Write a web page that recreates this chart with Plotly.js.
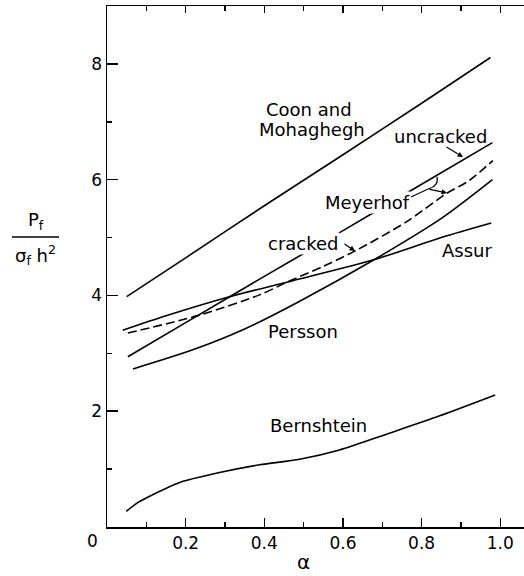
<!DOCTYPE html>
<html>
<head>
<meta charset="utf-8">
<script src="https://cdn.plot.ly/plotly-3.0.1.min.js"></script>
<style>
html,body{margin:0;padding:0;overflow:hidden;background:#fff;}
#chart{width:524px;height:576px;}
</style>
</head>
<body>
<div id="chart"></div>
<script>
// ---- data ----
const alphaCoon = [0.05, 0.2, 0.4, 0.6, 0.8, 0.975];
const pfCoon    = [3.98, 4.65, 5.55, 6.43, 7.32, 8.11];

const alphaUncracked = [0.053, 0.2, 0.4, 0.6, 0.8, 0.98];
const pfUncracked    = [2.94, 3.53, 4.33, 5.12, 5.92, 6.64];

const alphaCracked = [0.053, 0.235, 0.388, 0.464, 0.549, 0.634, 0.761, 0.863, 0.922, 0.981];
const pfCracked    = [3.35, 3.66, 4.01, 4.25, 4.50, 4.78, 5.27, 5.76, 5.99, 6.33];

const alphaAssur = [0.04, 0.15, 0.307, 0.47, 0.68, 0.85, 0.977];
const pfAssur    = [3.40, 3.65, 3.97, 4.25, 4.62, 5.00, 5.25];

const alphaPersson = [0.066, 0.218, 0.35, 0.49, 0.68, 0.85, 0.98];
const pfPersson    = [2.73, 3.06, 3.42, 3.90, 4.62, 5.33, 6.00];

const alphaBern = [0.049, 0.08, 0.117, 0.185, 0.286, 0.388, 0.49, 0.591, 0.718, 0.846, 0.987];
const pfBern    = [0.27, 0.43, 0.56, 0.77, 0.94, 1.075, 1.17, 1.33, 1.62, 1.92, 2.28];

const xTickVals = [0.2, 0.4, 0.6, 0.8, 1.0];
const xTickText = ['0.2', '0.4', '0.6', '0.8', '1.0'];
const xMinorVals = [0.1, 0.3, 0.5, 0.7, 0.9];
const yTickVals = [2, 4, 6, 8];
const yTickText = ['2', '4', '6', '8'];
const yMinorVals = [1, 3, 5, 7];

// ---- layout geometry ----
const FW = 524, FH = 576;
const L = 107, T = 6, W = FW - L, H = 521;
const XMAX = W / 393.3, YMAX = 9;
const dx = px => (px - L) / W * XMAX;
const dy = py => (T + H - py) / H * YMAX;
const paperX = px => (px - L) / W;
const paperY = py => (T + H - py) / H;

const FONT = 'DejaVu Sans, sans-serif';
const lineStyle = {color: '#000', width: 1.6};

function curve(x, y, dash, xa) {
  return {x: x, y: y, type: 'scatter', mode: 'lines', xaxis: xa || 'x', yaxis: 'y',
          line: Object.assign({}, lineStyle, {shape: 'spline', smoothing: 0.8, dash: dash || 'solid'}),
          hoverinfo: 'skip', showlegend: false};
}

const traces = [
  curve(alphaCoon, pfCoon, 'solid', 'x2'),
  curve(alphaUncracked, pfUncracked),
  curve(alphaCracked, pfCracked, '9px,4px'),
  curve(alphaAssur, pfAssur),
  curve(alphaPersson, pfPersson),
  curve(alphaBern, pfBern)
];

function label(text, px, py, bg) {
  return {text: text, x: dx(px), y: dy(py), xref: 'x', yref: 'y', showarrow: false,
          xanchor: 'center', yanchor: 'middle', font: {family: FONT, size: 18, color: '#000'},
          bgcolor: bg ? '#fff' : 'rgba(0,0,0,0)', borderpad: 0};
}
function arrow(tipx, tipy, tailx, taily) {
  return {text: '', x: dx(tipx), y: dy(tipy), xref: 'x', yref: 'y', showarrow: true,
          ax: tailx - tipx, ay: taily - tipy, arrowhead: 2, arrowsize: 0.9, arrowwidth: 1.2,
          arrowcolor: '#000', standoff: 0, startstandoff: 0};
}
function paperText(text, px, py, size) {
  return {text: text, x: paperX(px), y: paperY(py), xref: 'paper', yref: 'paper', showarrow: false,
          xanchor: 'center', yanchor: 'middle', font: {family: FONT, size: size, color: '#000'}};
}

const annotations = [
  label('Coon and', 309, 109),
  label('Mohaghegh', 312, 129),
  label('uncracked', 440, 136),
  label('Meyerhof', 367, 202, true),
  label('cracked', 303, 243, true),
  label('Assur', 467, 250),
  label('Persson', 303, 331),
  label('Bernshtein', 318, 425),
  arrow(463, 157, 445, 146),
  arrow(355, 251, 343, 243),
  arrow(447, 193, 428, 189),
  paperText('0', 92, 541, 17),
  paperText('α', 303, 562, 20),
  paperText('P<sub>f</sub>', 36, 221, 18),
  paperText('σ<sub>f</sub> h<sup>2</sup>', 35, 255, 18)
];

const shapes = [
  {type: 'line', xref: 'paper', yref: 'paper', x0: paperX(12), x1: paperX(59), y0: paperY(237), y1: paperY(237),
   line: {color: '#000', width: 1.3}},
  {type: 'path', xref: 'x', yref: 'y',
   path: 'M ' + dx(411) + ',' + dy(197) + ' L ' + dx(428) + ',' + dy(189) +
         ' Q ' + dx(439) + ',' + dy(186) + ' ' + dx(437) + ',' + dy(177),
   line: {color: '#000', width: 1.2}}
];

const tickfont = {family: FONT, size: 17, color: '#000'};
const noGrid = {showgrid: false, zeroline: false, fixedrange: true};

const layout = {
  width: FW, height: FH,
  margin: {l: L, r: 0, t: T, b: FH - T - H},
  paper_bgcolor: '#fff', plot_bgcolor: '#fff',
  xaxis: Object.assign({}, noGrid, {range: [0, XMAX], showline: true, linecolor: '#000', linewidth: 1.5,
          ticks: 'inside', tickcolor: '#000', tickwidth: 1.5, ticklen: 9,
          tickmode: 'array', tickvals: xTickVals, ticktext: xTickText, tickfont: tickfont,
          minor: {tickmode: 'array', tickvals: xMinorVals, ticks: 'inside', ticklen: 5, tickwidth: 1.5, tickcolor: '#000'}}),
  xaxis2: Object.assign({}, noGrid, {range: [0, XMAX], overlaying: 'x', side: 'top', anchor: 'y',
          showline: true, linecolor: '#000', linewidth: 1.5,
          ticks: 'inside', tickcolor: '#000', tickwidth: 1.5, ticklen: 7,
          tickmode: 'array', tickvals: xTickVals, showticklabels: false,
          minor: {tickmode: 'array', tickvals: xMinorVals, ticks: 'inside', ticklen: 5, tickwidth: 1.5, tickcolor: '#000'}}),
  yaxis: Object.assign({}, noGrid, {range: [0, YMAX], showline: true, linecolor: '#000', linewidth: 1.5,
          ticks: 'inside', tickcolor: '#000', tickwidth: 1.5, ticklen: 11,
          tickmode: 'array', tickvals: yTickVals, ticktext: yTickText, tickfont: tickfont,
          minor: {tickmode: 'array', tickvals: yMinorVals, ticks: 'inside', ticklen: 5, tickwidth: 1.5, tickcolor: '#000'}}),
  annotations: annotations,
  shapes: shapes,
  showlegend: false
};

Plotly.newPlot('chart', traces, layout, {staticPlot: true, displayModeBar: false});
</script>
</body>
</html>
